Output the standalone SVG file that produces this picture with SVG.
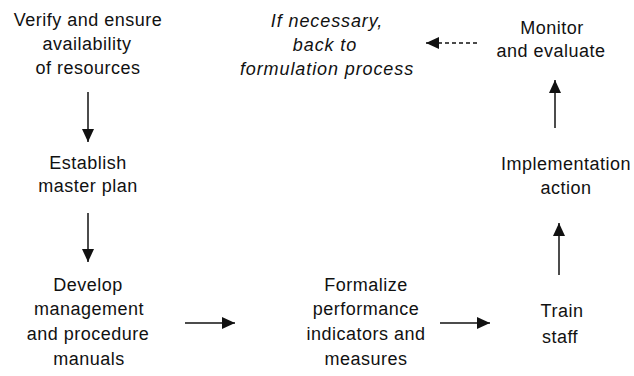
<svg xmlns="http://www.w3.org/2000/svg" width="634" height="376" viewBox="0 0 634 376">
<style>
text{font-family:"Liberation Sans",Arial,sans-serif;font-size:18px;fill:#111;text-anchor:middle;letter-spacing:0.5px}
.it{font-style:italic;letter-spacing:0.9px}
.c{stroke:#111;stroke-width:1.5;fill:none}
.d{stroke-dasharray:4 3}
</style>
<defs>
<marker id="ah" viewBox="0 0 13 12" refX="13" refY="6" markerWidth="13" markerHeight="12" markerUnits="userSpaceOnUse" orient="auto">
<path d="M0,0 L13,6 L0,12 z" fill="#111"/>
</marker>
</defs>
<rect width="634" height="376" fill="#fff"/>
<g id="verify"><text x="88" y="26">Verify and ensure</text><text x="87" y="50">availability</text><text x="88" y="74">of resources</text></g>
<g id="establish"><text x="88" y="169">Establish</text><text x="88" y="192">master plan</text></g>
<g id="develop"><text x="88" y="291">Develop</text><text x="89" y="315">management</text><text x="88" y="340">and procedure</text><text x="89" y="365">manuals</text></g>
<g id="formalize"><text x="366" y="291">Formalize</text><text x="366" y="315">performance</text><text x="366" y="340">indicators and</text><text x="366" y="365">measures</text></g>
<g id="train"><text x="562" y="317">Train</text><text x="560" y="343">staff</text></g>
<g id="implementation"><text x="566" y="170">Implementation</text><text x="566" y="194">action</text></g>
<g id="monitor"><text x="552" y="34">Monitor</text><text x="551" y="57">and evaluate</text></g>
<g id="feedback"><text class="it" x="327" y="27">If necessary,</text><text class="it" x="325" y="51">back to</text><text class="it" x="327" y="75">formulation process</text></g>
<g id="connectors">
<line class="c" x1="88" y1="92" x2="88" y2="142" marker-end="url(#ah)"/>
<line class="c" x1="88" y1="213" x2="88" y2="262" marker-end="url(#ah)"/>
<line class="c" x1="185" y1="323" x2="235" y2="323" marker-end="url(#ah)"/>
<line class="c" x1="440" y1="323" x2="490" y2="323" marker-end="url(#ah)"/>
<line class="c" x1="559" y1="275" x2="559" y2="223" marker-end="url(#ah)"/>
<line class="c" x1="555" y1="128" x2="555" y2="80" marker-end="url(#ah)"/>
<line class="c d" x1="477" y1="43" x2="426" y2="43" marker-end="url(#ah)"/>
</g>
</svg>
